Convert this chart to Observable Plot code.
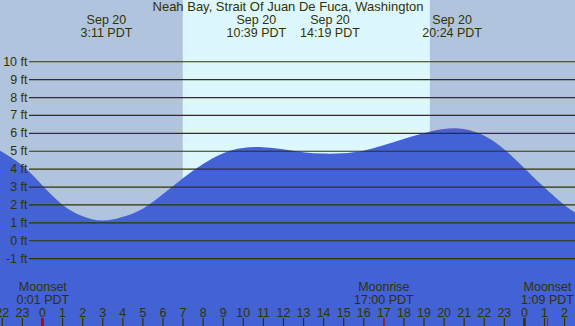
<!DOCTYPE html>
<html>
<head>
<meta charset="utf-8">
<script src="https://cdn.jsdelivr.net/npm/d3@7"></script>
<script src="https://cdn.jsdelivr.net/npm/@observablehq/plot@0.6"></script>
<style>
  html, body { margin: 0; padding: 0; background: #fff; }
  #chart svg { display: block; }
</style>
</head>
<body>
<div id="chart"></div>
<script>
// ---- data ----
const title = "Neah Bay, Strait Of Juan De Fuca, Washington";

// tide height (ft) at hours since midnight Sep 20 (PDT)
const tideHours = [-2.09, -2, -1, 0, 1, 2, 3, 4, 5, 6, 7, 8, 9, 10, 11, 12, 13, 14, 15, 16, 17, 18, 19, 20, 21, 22, 23, 24, 25, 26, 26.55];
const tideFeet  = [5.05, 4.95, 4.2, 3.08, 2.0, 1.35, 1.1, 1.3, 1.75, 2.55, 3.45, 4.25, 4.85, 5.15, 5.2, 5.08, 4.92, 4.84, 4.86, 5.0, 5.3, 5.65, 5.98, 6.22, 6.22, 5.85, 5.1, 4.05, 2.97, 1.98, 1.55];

// tide extremes shown at top
const extremeDates = ["Sep 20", "Sep 20", "Sep 20", "Sep 20"];
const extremeTimes = ["3:11", "10:39", "14:19", "20:24"];

// sun
const sunrise = "7:01";
const sunset = "19:19";

// moon events
const moonNames = ["Moonset", "Moonrise", "Moonset"];
const moonTimes = ["0:01", "17:00", "1:09"];
const moonDayOffset = [0, 0, 1];

// axis ticks
const levels = [-1, 0, 1, 2, 3, 4, 5, 6, 7, 8, 9, 10];
const hourTicks = d3.range(-2, 27);

// ---- derived ----
const toH = (s, off = 0) => { const [h, m] = s.split(":").map(Number); return h + m / 60 + 24 * off; };
const xMin = -2.0916, xMax = 26.544;
const yMin = -4.79, yMax = 13.42;
const tide = tideHours.map((h, i) => ({h, ft: tideFeet[i]}));
const extremes = extremeTimes.map((t, i) => ({h: toH(t), date: extremeDates[i], time: t + " PDT"}));
const moon = moonNames.map((n, i) => ({h: toH(moonTimes[i], moonDayOffset[i]), name: n, time: moonTimes[i] + " PDT"}));
const sr = toH(sunrise), ss = toH(sunset);
const bands = [
  {x1: xMin, x2: sr, fill: "#b0c4de"},
  {x1: sr, x2: ss, fill: "#ddf7ff"},
  {x1: ss, x2: xMax, fill: "#b0c4de"}
];
const ink = "#333300";

const chart = Plot.plot({
  width: 575,
  height: 326,
  margin: 0,
  x: {domain: [xMin, xMax], axis: null},
  y: {domain: [yMin, yMax], axis: null},
  style: {fontFamily: "'Liberation Sans', Arial, sans-serif", fontSize: "12.5px", color: ink, background: "transparent"},
  marks: [
    Plot.rect(bands, {x1: "x1", x2: "x2", y1: d => yMin, y2: d => yMax, fill: "fill"}),
    Plot.areaY(tide, {x: "h", y1: d => yMin, y2: "ft", fill: "#4262d6", curve: "natural", clip: true}),
    Plot.ruleY(levels, {y: d => d, stroke: ink, strokeWidth: 1.2, insetLeft: 29}),
    Plot.text(levels, {y: d => d, text: d => `${d} ft`, frameAnchor: "left", dx: 27, textAnchor: "end", lineAnchor: "middle"}),
    Plot.text([title], {text: d => d, frameAnchor: "top", dy: 6, lineAnchor: "middle", fontSize: 13}),
    Plot.text(extremes, {x: "h", text: "date", frameAnchor: "top", dy: 19.5, lineAnchor: "middle"}),
    Plot.text(extremes, {x: "h", text: "time", frameAnchor: "top", dy: 32.5, lineAnchor: "middle"}),
    Plot.ruleX(hourTicks, {x: d => d, insetTop: 318, stroke: ink, strokeWidth: d => (d % 24 === 0 ? 2.6 : 1.2)}),
    Plot.ruleX(moon, {x: "h", insetTop: 318, stroke: "#ee0000", strokeWidth: 1.2}),
    Plot.text(hourTicks, {x: d => d, text: d => String(((d % 24) + 24) % 24), frameAnchor: "bottom", dy: -14, lineAnchor: "middle"}),
    Plot.text(moon, {x: "h", text: "name", frameAnchor: "bottom", dy: -40, lineAnchor: "middle"}),
    Plot.text(moon, {x: "h", text: "time", frameAnchor: "bottom", dy: -27, lineAnchor: "middle"})
  ]
});
document.getElementById("chart").append(chart);
</script>
</body>
</html>
